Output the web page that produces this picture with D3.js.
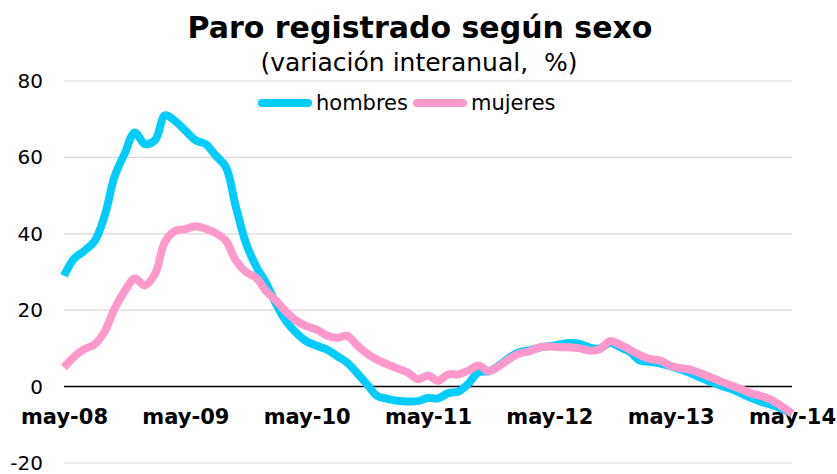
<!DOCTYPE html>
<html>
<head>
<meta charset="utf-8">
<script src="https://cdn.jsdelivr.net/npm/d3@7"></script>
<style>
  body { margin: 0; background: #fff; }
  svg { display: block; font-family: "DejaVu Sans", Verdana, sans-serif; }
</style>
</head>
<body>
<svg id="chart"></svg>
<script>
// ----- data (monthly, may-08 .. may-14) -----
let hombres = [
    29, 33.5, 35.5, 38, 44.5, 55, 61, 66.5, 63.5, 64.5, 71, 69.5,
    67, 64.5, 63.5, 60.5, 57.5, 47, 37.5, 31.5, 27, 21.5, 17, 14,
    11.8, 10.7, 9.7, 8, 6.3, 3.5, 0.5, -2.5, -3.2, -3.7, -3.9, -3.8,
    -3, -3.1, -1.7, -1.3, 0.8, 3.8, 4, 5.5, 7.5, 9, 9.5, 10.2,
    10.6, 11, 11.4, 11.2, 10.2, 10, 11.5, 10.3, 9, 6.8, 6.5, 6,
    5.3, 4.5, 3.5, 2.3, 1.2, 0.2, -0.6, -1.8, -3, -4, -4.8, -5.8,
    -7
];
let mujeres = [
    5, 7.8, 9.8, 11, 14.3, 20.4, 25, 28.3, 26.5, 29.5, 38, 40.8,
    41.2, 42, 41.3, 40.2, 38.2, 33, 30, 28.5, 25, 22.4, 19.5, 17.2,
    15.8, 14.9, 13.4, 12.8, 13.3, 10.8, 8.6, 7, 5.8, 4.7, 3.7, 1.9,
    2.9, 1.5, 3.2, 3.2, 4.2, 5.5, 4, 5.3, 7.2, 8.6, 9.2, 10.2,
    10.5, 10.3, 10.3, 10, 9.4, 9.8, 11.9, 11, 9.6, 8.2, 7.2, 6.8,
    5.4, 4.8, 4.4, 3.4, 2.4, 1.3, 0.3, -0.7, -1.8, -2.5, -3.5, -5.2,
    -7
];
let xLabels = ["may-08", "may-09", "may-10", "may-11", "may-12", "may-13", "may-14"];
let yTicks = [-20, 0, 20, 40, 60, 80];
let seriesNames = ["hombres", "mujeres"];
let colors = ["#00ccff", "#ff99cc"];

let svgWidth = 837;
let svgHeight = 474;
let margin = { top: 81, right: 45, bottom: 12, left: 64 };
let width = 792 - margin.left;
let height = 463 - margin.top;

let svg = d3.select("#chart")
    .attr("width", svgWidth)
    .attr("height", svgHeight);

let x = d3.scaleLinear()
    .domain([0, hombres.length - 1])
    .range([0, width]);

let y = d3.scaleLinear()
    .domain([-20, 80])
    .range([height, 0]);

let chart = svg.append("g")
    .attr("transform", `translate(${margin.left}, ${margin.top})`);

// gridlines
chart.append("g")
    .selectAll("line")
    .data(yTicks.filter(d => d !== 0))
    .enter()
    .append("line")
    .attr("x1", 0)
    .attr("x2", width)
    .attr("y1", d => y(d))
    .attr("y2", d => y(d))
    .attr("stroke", "#d9d9d9")
    .attr("stroke-width", 1.2);

// y axis labels (plain hyphen for negatives, like the original)
let axisY = d3.axisLeft(y)
    .tickValues(yTicks)
    .tickFormat(d => String(d))
    .tickSize(0)
    .tickPadding(21);
let gy = chart.append("g").call(axisY);
gy.select(".domain").remove();
gy.selectAll("text")
    .attr("font-size", 20)
    .attr("fill", "#000")
    .attr("font-family", "DejaVu Sans, Verdana, sans-serif");

// zero line
chart.append("line")
    .attr("x1", 0)
    .attr("x2", width)
    .attr("y1", y(0))
    .attr("y2", y(0))
    .attr("stroke", "#000")
    .attr("stroke-width", 1.5);

// x labels every 12 months
let axisX = d3.axisBottom(x)
    .tickValues(xLabels.map((d, i) => i * 12))
    .tickFormat((d, i) => xLabels[i])
    .tickSize(0)
    .tickPadding(22);
let gx = chart.append("g")
    .attr("transform", `translate(0, ${y(0)})`)
    .call(axisX);
gx.select(".domain").remove();
gx.selectAll("text")
    .attr("font-size", 21)
    .attr("font-weight", "bold")
    .attr("fill", "#000")
    .attr("font-family", "DejaVu Sans, Verdana, sans-serif");

// lines
let line = d3.line()
    .x((d, i) => x(i))
    .y(d => y(d))
    .curve(d3.curveCatmullRom.alpha(0.5));

[hombres, mujeres].forEach((data, k) => {
    chart.append("path")
        .datum(data)
        .attr("fill", "none")
        .attr("stroke", colors[k])
        .attr("stroke-width", 8)
        .attr("stroke-linejoin", "round")
        .attr("d", line);
});

// title
svg.append("text")
    .attr("x", 420)
    .attr("y", 38)
    .attr("text-anchor", "middle")
    .attr("font-size", 30)
    .attr("font-weight", "bold")
    .text("Paro registrado según sexo");

svg.append("text")
    .attr("x", 419)
    .attr("y", 71)
    .attr("text-anchor", "middle")
    .attr("font-size", 25)
    .attr("xml:space", "preserve")
    .style("white-space", "pre")
    .text("(variación interanual,  %)");

// legend
let legend = svg.append("g");
let legendX = [258, 413];
seriesNames.forEach((name, k) => {
    legend.append("line")
        .attr("x1", legendX[k] + 4)
        .attr("x2", legendX[k] + 50)
        .attr("y1", 103)
        .attr("y2", 103)
        .attr("stroke", colors[k])
        .attr("stroke-width", 8)
        .attr("stroke-linecap", "round");
    legend.append("text")
        .attr("x", legendX[k] + 58)
        .attr("y", 110)
        .attr("font-size", 21)
        .attr("fill", "#000")
        .text(name);
});
</script>
</body>
</html>
